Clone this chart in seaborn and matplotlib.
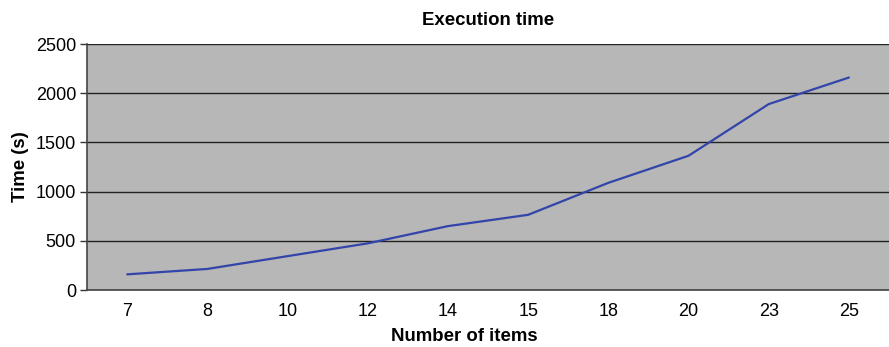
import matplotlib
matplotlib.use("Agg")
import matplotlib.pyplot as plt
from matplotlib.ticker import FixedLocator
import pandas as pd
import seaborn as sns

items = ["7", "8", "10", "12", "14", "15", "18", "20", "23", "25"]
times = [160, 215, 345, 475, 650, 765, 1090, 1365, 1890, 2160]
y_ticks = [0, 500, 1000, 1500, 2000, 2500]

sns.set_style("white")
plt.rcParams["font.family"] = ["Liberation Sans", "DejaVu Sans"]
plt.rcParams["text.color"] = "black"
plt.rcParams["axes.labelcolor"] = "black"
plt.rcParams["xtick.color"] = "black"
plt.rcParams["ytick.color"] = "black"

df = pd.DataFrame({"items": items, "time": times})

fig = plt.figure(figsize=(8.89, 3.47), dpi=100)
ax = fig.add_axes([0.098, 0.164, 0.902, 0.709])
ax.set_facecolor("#b6b7b6")

sns.lineplot(data=df, x="items", y="time", sort=False, color="#3344aa",
             linewidth=1.6, ax=ax)

ax.set_xlim(-0.5, len(items) - 0.5)
ax.set_ylim(0, 2500)
ax.set_yticks(y_ticks)
ax.yaxis.grid(True, color="#222222", linewidth=1.0)
ax.set_axisbelow(True)

# category ticks sit between labels
ax.xaxis.set_minor_locator(FixedLocator([i - 0.5 for i in range(len(items) + 1)]))
ax.tick_params(axis="x", which="major", length=0, pad=9.5, labelsize=13)
ax.tick_params(axis="x", which="minor", length=5, width=1, color="#333333",
               direction="out")
ax.tick_params(axis="y", length=5, width=1, color="#333333", direction="out",
               labelsize=13, left=True, pad=3)

for side in ["top", "right"]:
    ax.spines[side].set_visible(False)
for side in ["left", "bottom"]:
    ax.spines[side].set_color("#444444")
    ax.spines[side].set_linewidth(1.2)

ax.set_title("Execution time", fontsize=13.4, fontweight="bold", pad=14)
ax.set_xlabel("Number of items", fontsize=13.4, fontweight="bold",
              labelpad=5.5, x=0.471)
ax.set_ylabel("Time (s)", fontsize=13.4, fontweight="bold", labelpad=5)

fig.savefig("out.png", dpi=100)
